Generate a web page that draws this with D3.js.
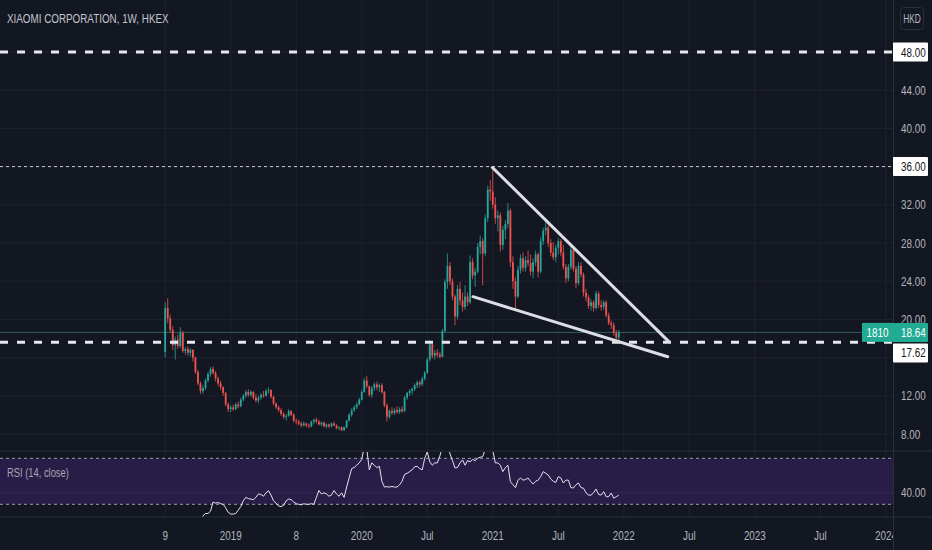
<!DOCTYPE html>
<html>
<head>
<meta charset="utf-8">
<script src="https://cdn.jsdelivr.net/npm/d3@7/dist/d3.min.js"></script>
<style>
  html, body { margin: 0; padding: 0; background: #131722; }
  svg { display: block; }
  text { font-family: "Liberation Sans", Arimo, Roboto, sans-serif; }
</style>
</head>
<body>
<svg id="chart"></svg>
<script>
let width = 932,
    height = 550,
    plotRight = 893,
    paneBottom = 451,
    rsiBottom = 517;

// weekly bars, first week starts 2018-07-09, [open, high, low, close]
const firstWeek = "2018-07-09";
const ohlc = [
  [16.6,21.8,16.0,21.2],[21.2,22.2,19.6,20.1],[20.1,20.5,18.6,18.9],[18.9,19.3,16.8,17.3],[17.3,18.2,15.8,17.9],
  [17.9,18.4,16.9,17.2],[17.2,19.2,17.0,18.6],[18.6,18.8,16.5,16.7],[16.7,17.1,16.3,16.9],[16.9,17.2,16.2,16.5],
  [16.5,17.0,16.1,16.8],[16.8,16.9,15.6,16.0],[16.0,16.1,14.3,14.5],[14.5,14.7,13.1,13.3],[13.3,13.5,12.2,12.5],
  [12.5,13.1,12.2,12.8],[12.8,13.8,12.6,13.6],[13.6,14.5,13.4,14.3],[14.3,15.0,14.0,14.8],[14.8,15.1,14.2,14.4],
  [14.4,14.6,13.5,13.8],[13.8,14.0,13.0,13.3],[13.3,13.6,12.6,12.9],[12.9,13.0,12.0,12.3],[12.3,12.4,10.9,11.1],
  [11.1,11.3,10.3,10.6],[10.6,11.0,10.3,10.8],[10.8,11.1,10.4,10.6],[10.6,11.3,10.5,11.1],[11.1,11.4,10.7,10.9],
  [10.9,11.8,10.8,11.6],[11.6,12.2,11.4,12.0],[12.0,12.6,11.8,12.4],[12.4,12.7,11.9,12.1],[12.1,12.6,11.9,12.4],
  [12.4,12.5,11.6,11.8],[11.8,12.2,11.3,11.5],[11.5,12.0,11.2,11.8],[11.8,12.3,11.6,12.1],[12.1,12.5,11.8,12.0],
  [12.0,12.7,11.9,12.5],[12.5,12.9,12.2,12.6],[12.6,12.7,11.7,11.9],[11.9,12.0,11.0,11.2],[11.2,11.3,10.6,10.8],
  [10.8,11.0,10.3,10.5],[10.5,10.7,9.9,10.1],[10.1,10.3,9.6,9.8],[9.8,10.1,9.4,9.9],[9.9,10.6,9.8,10.4],
  [10.4,10.5,9.9,10.0],[10.0,10.2,9.2,9.4],[9.4,9.6,9.0,9.3],[9.3,9.5,8.9,9.1],[9.1,9.3,8.7,8.9],
  [8.9,9.3,8.8,9.1],[9.1,9.2,8.7,8.9],[8.9,9.1,8.6,8.8],[8.8,9.4,8.7,9.3],[9.3,9.6,9.0,9.5],
  [9.5,9.7,9.1,9.3],[9.3,9.5,8.9,9.0],[9.0,9.3,8.8,9.2],[9.2,9.3,8.7,8.8],[8.8,9.1,8.6,9.0],
  [9.0,9.1,8.6,8.8],[8.8,9.2,8.7,9.1],[9.1,9.3,8.8,8.9],[8.9,9.0,8.5,8.6],[8.6,8.8,8.4,8.7],
  [8.7,8.8,8.3,8.4],[8.4,8.8,8.3,8.7],[8.7,9.5,8.6,9.4],[9.4,10.2,9.3,10.0],[10.0,10.7,9.8,10.5],
  [10.5,11.0,10.3,10.8],[10.8,11.3,10.6,11.1],[11.1,11.8,11.0,11.6],[11.6,12.6,11.5,12.4],[12.4,13.9,12.3,13.6],
  [13.6,14.1,12.8,13.0],[13.0,13.1,11.9,12.1],[12.1,13.0,11.8,12.8],[12.8,13.4,12.5,13.2],[13.2,13.5,12.6,12.9],
  [12.9,13.3,12.4,13.1],[13.1,13.3,12.2,12.4],[12.4,12.5,10.8,11.0],[11.0,11.2,9.3,9.8],[9.8,10.6,9.6,10.4],
  [10.4,10.8,10.0,10.2],[10.2,10.7,10.0,10.5],[10.5,10.9,10.1,10.3],[10.3,10.8,10.1,10.6],[10.6,10.9,10.2,10.4],
  [10.4,12.0,10.3,11.8],[11.8,12.4,11.6,12.3],[12.3,12.7,12.0,12.5],[12.5,12.9,12.1,12.7],[12.7,13.3,12.5,13.1],
  [13.1,13.6,12.8,13.4],[13.4,13.6,12.9,13.2],[13.2,14.0,13.0,13.8],[13.8,14.6,13.6,14.4],[14.4,16.0,14.3,15.8],
  [15.8,17.8,15.6,17.4],[17.4,17.6,15.9,16.2],[16.2,16.8,15.8,16.5],[16.5,16.9,16.0,16.3],[16.3,16.6,15.9,16.1],
  [16.1,19.0,16.0,18.8],[18.8,24.2,18.6,23.9],[23.9,26.9,23.2,25.6],[25.6,26.0,23.6,24.0],[24.0,24.3,22.0,22.4],
  [22.4,22.6,19.4,20.3],[20.3,23.6,20.0,23.2],[23.2,23.9,21.5,22.0],[22.0,22.8,20.8,21.3],[21.3,23.6,21.0,22.4],
  [22.4,22.8,21.4,21.8],[21.8,26.7,21.6,26.0],[26.0,26.4,24.2,24.6],[24.6,25.4,23.4,25.0],[25.0,28.0,24.8,27.6],
  [27.6,28.8,26.8,28.2],[28.2,28.5,23.6,26.9],[26.9,31.0,26.6,30.6],[30.6,34.0,30.2,33.6],[33.6,34.6,32.4,33.4],
  [33.4,35.9,31.6,32.0],[32.0,32.8,30.0,30.6],[30.6,31.4,29.2,30.9],[30.9,31.2,27.1,27.8],[27.8,29.8,27.3,29.4],
  [29.4,30.4,28.4,30.0],[30.0,32.2,29.6,31.4],[31.4,31.6,25.5,26.0],[26.0,26.6,23.2,24.0],[24.0,24.4,20.9,22.4],
  [22.4,25.6,22.2,25.2],[25.2,26.8,24.8,26.4],[26.4,27.0,25.0,25.4],[25.4,26.6,25.0,26.2],[26.2,27.2,25.6,25.9],
  [25.9,26.8,24.6,25.0],[25.0,26.4,24.3,26.0],[26.0,27.2,25.6,26.8],[26.8,27.0,24.4,25.0],[25.0,28.6,24.8,28.2],
  [28.2,29.6,27.8,29.3],[29.3,30.2,28.8,29.6],[29.6,29.9,27.6,28.0],[28.0,28.4,26.6,27.0],[27.0,28.1,26.2,26.5],
  [26.5,27.8,26.0,27.5],[27.5,28.5,26.8,28.2],[28.2,28.4,26.6,27.0],[27.0,27.8,25.2,25.5],[25.5,25.8,23.8,24.3],
  [24.3,25.8,24.0,25.5],[25.5,27.8,25.2,27.3],[27.3,27.5,25.0,25.3],[25.3,25.6,23.3,23.8],[23.8,26.0,23.6,25.6],
  [25.6,26.0,24.4,24.7],[24.7,24.9,22.4,22.8],[22.8,23.2,21.9,22.3],[22.3,22.6,21.1,21.4],[21.4,22.1,20.9,21.8],
  [21.8,22.0,20.8,21.2],[21.2,23.0,21.0,22.7],[22.7,22.9,21.2,21.5],[21.5,22.0,20.9,21.3],[21.3,22.0,21.0,21.8],
  [21.8,22.0,20.2,20.4],[20.4,20.7,19.4,19.6],[19.6,19.9,19.0,19.4],[19.4,19.7,18.3,18.6],[18.6,18.9,17.8,18.1],
  [18.1,18.9,17.6,18.64]
];

const rsiStart = 14;
const rsiValues = [
  14,20,22,22,24,32,31,31.5,30.5,30,
  27,23,21.5,21.5,22,25,28,33,36,35,
  34.5,34,36,39,38.5,37,40,41.8,38,33,
  31,28.5,28,29,33,34.6,34,32,30.5,30,
  29.5,30.5,30,30,30.5,30,36,42,39,40,
  39,37,38,42,39,37,40,36,45,53,
  61,62,64,66,69,80,78,60,66,64,
  62,63,50,45,45.3,45,45.5,45,45,47,
  50,56,57,58.4,60,62.7,63,61,60,70,
  75.7,67,64,66,66,72,80,85,86,74,
  68,61.6,62,66,68.6,64,68,67,69,68,
  70,71,71.4,78,82,84,77,66,66,64,
  58.4,62,64,49.7,47,44.5,51,52.9,51,51.5,
  52.9,50,47.6,50,51,54,58.4,57,55.5,52,
  50,49,54,53,48.5,51,51,44.5,44.2,47,
  48.5,44.5,44,40,38,38,40,43.3,38.5,38,
  41,36.6,36.6,39.8,35.3,36.6,38
];

const priceTicks = [8, 12, 16, 20, 24, 28, 32, 36, 40, 44, 48];
// the 16.00 label is covered by the 17.62 box in the reference
const hiddenPriceLabels = [16];
const rsiTicks = [40];
const rsiBands = [70, 30];
const timeTickDates = ["2018-07-09","2019-01-07","2019-07-08","2020-01-06","2020-07-06","2021-01-04",
                       "2021-07-05","2022-01-03","2022-07-04","2023-01-02","2023-07-03","2024-01-01"];
const timeTickLabels = ["9","2019","8","2020","Jul","2021","Jul","2022","Jul","2023","Jul","2024"];

// horizontal levels drawn on the chart
const boldLevels = [48, 17.62];
const dottedLevels = [36];
// trend lines [date, price]
const trendLines = [
  [["2021-01-03", 35.9], ["2022-05-08", 17.67]],
  [["2020-11-10", 22.38], ["2022-05-05", 16.09]]
];
const lastPrice = 18.64;
const symbolCode = "1810";

const parse = d3.timeParse("%Y-%m-%d");

let x = d3.scaleTime()
    .domain([parse("2019-01-07"), parse("2024-01-01")])
    .range([230.7, 885.9]);
let y = d3.scaleLinear().domain([8, 48]).range([434, 52]);
let yr = d3.scaleLinear().domain([30, 70]).range([504.3, 458.3]);

const week0 = parse(firstWeek);
const bars = ohlc.map((d, i) => ({
  date: d3.timeDay.offset(week0, 7 * i),
  o: d[0], h: d[1], l: d[2], c: d[3]
}));

let svg = d3.select('#chart')
    .attr('width', width)
    .attr('height', height);

svg.append('rect').attr('width', width).attr('height', height).attr('fill', '#131722');

let defs = svg.append('defs');
defs.append('clipPath').attr('id', 'clipPrice')
  .append('rect').attr('x', 0).attr('y', 0).attr('width', plotRight).attr('height', paneBottom);
defs.append('clipPath').attr('id', 'clipRsi')
  .append('rect').attr('x', 0).attr('y', paneBottom + 1).attr('width', plotRight).attr('height', rsiBottom - paneBottom - 1);
defs.append('clipPath').attr('id', 'clipTime')
  .append('rect').attr('x', 0).attr('y', rsiBottom).attr('width', plotRight).attr('height', height - rsiBottom);

const gridColor = '#1f232e';

// vertical grid
svg.append('g').selectAll('line')
  .data(timeTickDates)
  .enter().append('line')
  .attr('x1', d => x(parse(d))).attr('x2', d => x(parse(d)))
  .attr('y1', 0).attr('y2', rsiBottom)
  .attr('stroke', gridColor).attr('stroke-width', 1);

// horizontal grid, price pane
svg.append('g').selectAll('line')
  .data(priceTicks)
  .enter().append('line')
  .attr('x1', 0).attr('x2', plotRight)
  .attr('y1', d => y(d)).attr('y2', d => y(d))
  .attr('stroke', gridColor).attr('stroke-width', 1);

// RSI pane background band
svg.append('rect')
  .attr('x', 0).attr('width', plotRight)
  .attr('y', yr(rsiBands[0])).attr('height', yr(rsiBands[1]) - yr(rsiBands[0]))
  .attr('fill', '#281d47');

svg.append('g').selectAll('line')
  .data(rsiTicks)
  .enter().append('line')
  .attr('x1', 0).attr('x2', plotRight)
  .attr('y1', d => yr(d)).attr('y2', d => yr(d))
  .attr('stroke', '#322a52').attr('stroke-width', 1);

svg.append('g').selectAll('line')
  .data(rsiBands)
  .enter().append('line')
  .attr('x1', 0).attr('x2', plotRight)
  .attr('y1', d => yr(d)).attr('y2', d => yr(d))
  .attr('stroke', '#9a9cab').attr('stroke-width', 1)
  .attr('stroke-dasharray', '3,3');

// current price line
svg.append('line')
  .attr('x1', 0).attr('x2', plotRight)
  .attr('y1', y(lastPrice)).attr('y2', y(lastPrice))
  .attr('stroke', '#2f5f5c').attr('stroke-width', 1);

// candles
let candleLayer = svg.append('g').attr('clip-path', 'url(#clipPrice)');
const up = '#26a69a', down = '#ef5350';

candleLayer.selectAll('line')
  .data(bars)
  .enter().append('line')
  .attr('x1', d => x(d.date)).attr('x2', d => x(d.date))
  .attr('y1', d => y(d.h)).attr('y2', d => y(d.l))
  .attr('stroke', d => d.c >= d.o ? up : down)
  .attr('stroke-width', 0.8);

candleLayer.selectAll('rect')
  .data(bars)
  .enter().append('rect')
  .attr('x', d => x(d.date) - 0.9)
  .attr('width', 1.8)
  .attr('y', d => y(Math.max(d.o, d.c)))
  .attr('height', d => Math.max(0.8, Math.abs(y(d.o) - y(d.c))))
  .attr('fill', d => d.c >= d.o ? up : down);

// drawn levels
let drawLayer = svg.append('g').attr('clip-path', 'url(#clipPrice)');
drawLayer.selectAll('line.dotted')
  .data(dottedLevels)
  .enter().append('line')
  .attr('class', 'dotted')
  .attr('x1', 0).attr('x2', plotRight)
  .attr('y1', d => y(d)).attr('y2', d => y(d))
  .attr('stroke', '#c8cad2').attr('stroke-width', 1)
  .attr('stroke-dasharray', '3,3');

drawLayer.selectAll('line.bold')
  .data(boldLevels)
  .enter().append('line')
  .attr('class', 'bold')
  .attr('x1', 0).attr('x2', plotRight)
  .attr('y1', d => y(d)).attr('y2', d => y(d))
  .attr('stroke', '#e6e8ee').attr('stroke-width', 3)
  .attr('stroke-dasharray', '8,9');

drawLayer.selectAll('line.trend')
  .data(trendLines)
  .enter().append('line')
  .attr('class', 'trend')
  .attr('x1', d => x(parse(d[0][0]))).attr('y1', d => y(d[0][1]))
  .attr('x2', d => x(parse(d[1][0]))).attr('y2', d => y(d[1][1]))
  .attr('stroke', '#dcdee4').attr('stroke-width', 3)
  .attr('stroke-linecap', 'round');

// RSI line
const rsiLine = d3.line()
  .x(d => x(d.date))
  .y(d => yr(d.v));
const rsiPoints = rsiValues.map((v, i) => ({date: bars[rsiStart + i].date, v: v}));
svg.append('path')
  .datum(rsiPoints)
  .attr('clip-path', 'url(#clipRsi)')
  .attr('d', rsiLine)
  .attr('fill', 'none')
  .attr('stroke', '#e4e1ee')
  .attr('stroke-width', 1);

// separators
svg.append('line').attr('x1', plotRight + 0.5).attr('x2', plotRight + 0.5).attr('y1', 0).attr('y2', height)
  .attr('stroke', '#2a2e39');
svg.append('line').attr('x1', 0).attr('x2', width).attr('y1', paneBottom).attr('y2', paneBottom)
  .attr('stroke', '#2a2e39');
svg.append('line').attr('x1', 0).attr('x2', width).attr('y1', rsiBottom).attr('y2', rsiBottom)
  .attr('stroke', '#2a2e39');

// narrow text: the reference font is condensed, so squeeze horizontally
const sx = 0.76;
function label(parent, tx, ty, txt, opts) {
  opts = opts || {};
  return parent.append('text')
    .attr('transform', `translate(${tx},${ty}) scale(${opts.sx || sx},1)`)
    .attr('text-anchor', opts.anchor || 'start')
    .attr('fill', opts.fill || '#b2b5be')
    .attr('font-size', opts.size || 13)
    .text(txt);
}

// price axis labels
priceTicks.filter(d => !hiddenPriceLabels.includes(d))
  .forEach(d => label(svg, 901, y(d) + 4.5, d3.format('.2f')(d)));
rsiTicks.forEach(d => label(svg, 901, yr(d) + 4.5, d3.format('.2f')(d)));

// boxed level labels
function boxLabel(cy, txt, fill, color) {
  svg.append('rect').attr('x', plotRight).attr('y', cy - 9.5).attr('width', 35).attr('height', 19)
    .attr('fill', fill).attr('rx', 1);
  label(svg, 901, cy + 4.5, txt, {fill: color});
}
boxLabel(y(48), '48.00', '#ffffff', '#131722');
boxLabel(y(36), '36.00', '#ffffff', '#131722');
boxLabel(y(lastPrice) + 20.5, d3.format('.2f')(17.62), '#ffffff', '#131722');
boxLabel(y(lastPrice), d3.format('.2f')(lastPrice), '#22ab94', '#ffffff');

svg.append('rect').attr('x', 862).attr('y', y(lastPrice) - 9.5).attr('width', plotRight - 862).attr('height', 19)
  .attr('fill', '#22ab94');
label(svg, 877.5, y(lastPrice) + 4.5, symbolCode, {anchor: 'middle', fill: '#ffffff'});

// currency badge
svg.append('rect').attr('x', 900.5).attr('y', 7.5).attr('width', 23).attr('height', 22).attr('rx', 3)
  .attr('fill', 'none').attr('stroke', '#2a2e39');
label(svg, 912, 23, 'HKD', {anchor: 'middle', size: 12, sx: 0.7});

// time axis
let timeAxis = svg.append('g').attr('clip-path', 'url(#clipTime)');
timeTickDates.forEach((d, i) =>
  label(timeAxis, x(parse(d)), 540, timeTickLabels[i], {anchor: 'middle'}));

// titles
label(svg, 7, 23, 'XIAOMI CORPORATION, 1W, HKEX', {size: 13.5, sx: 0.73, fill: '#c3c6ce'});
label(svg, 7, 477, 'RSI (14, close)', {sx: 0.72, fill: '#a3a6af'});
</script>
</body>
</html>
